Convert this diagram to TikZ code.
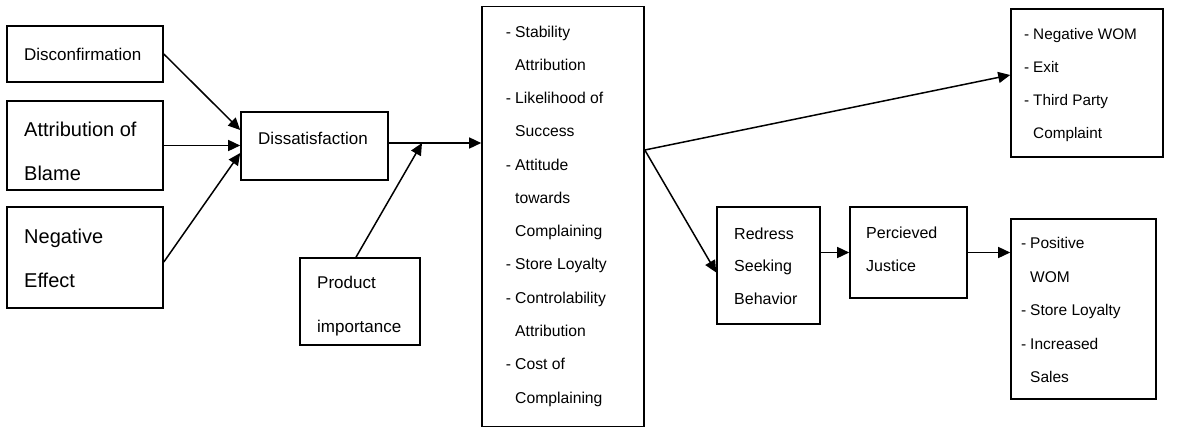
\documentclass[tikz,border=0pt]{standalone}
\usepackage{fontspec}
\setmainfont{Liberation Sans}
\usetikzlibrary{arrows.meta,calc}
\newcommand\myfs[2]{\fontsize{#1}{#2}\selectfont}
\newcommand\dd{\llap{-\kern4pt}}
\begin{document}
\begin{tikzpicture}[x=1pt,y=-1pt,
  box/.style={draw, line width=1.6pt, inner sep=0pt},
  txt/.style={anchor=west, align=left, inner sep=0pt},
  arr/.style={line width=1.5pt, -{Triangle[length=12pt,width=11pt]}}]
\useasboundingbox (0,0) rectangle (1183,429);
% boxes
\node[box, minimum width=156pt, minimum height=56pt]  (disc) at (85,54) {};
\node[box, minimum width=156pt, minimum height=89pt]  (attr) at (85,145.5) {};
\node[box, minimum width=156pt, minimum height=101pt] (neg)  at (85,257.5) {};
\node[box, minimum width=147pt, minimum height=68pt]  (dis)  at (314.5,146) {};
\node[box, minimum width=120pt, minimum height=87pt]  (pi)   at (360,301.5) {};
\node[box, minimum width=162pt, minimum height=420pt] (mid)  at (563,216.5) {};
\node[box, minimum width=152pt, minimum height=148pt] (tr)   at (1087,83) {};
\node[box, minimum width=103pt, minimum height=117pt] (rd)   at (768.5,265.5) {};
\node[box, minimum width=117pt, minimum height=91pt]  (pj)   at (908.5,252.5) {};
\node[box, minimum width=145pt, minimum height=180pt] (pos)  at (1083.5,309) {};
% texts
\node[txt, font=\myfs{17}{20}] (disc-t) at (24,54) {Disconfirmation};
\node[txt, font=\myfs{20}{44}] (attr-t) at (24,151) {Attribution of\\Blame};
\node[txt, font=\myfs{20}{44}] (neg-t) at (24,258) {Negative\\Effect};
\node[txt, font=\myfs{17}{20}] (dis-t) at (258,138) {Dissatisfaction};
\node[txt, font=\myfs{17}{44}] (pi-t) at (317,306) {Product\\importance};
\node[txt, font=\myfs{15.7}{33.27}] (mid-t) at (515,216) {\dd Stability\\Attribution\\\dd Likelihood of\\Success\\\dd Attitude\\towards\\Complaining\\\dd Store Loyalty\\\dd Controlability\\Attribution\\\dd Cost of\\Complaining};
\node[txt, font=\myfs{15.3}{33.3}] (tr-t) at (1033,85) {\dd Negative WOM\\\dd Exit\\\dd Third Party\\Complaint};
\node[txt, font=\myfs{16}{32.5}] (rd-t) at (734,266) {Redress\\Seeking\\Behavior};
\node[txt, font=\myfs{16}{33}] (pj-t) at (866,249.5) {Percieved\\Justice};
\node[txt, font=\myfs{15.5}{33.5}] (pos-t) at (1030,310) {\dd Positive\\WOM\\\dd Store Loyalty\\\dd Increased\\Sales};
% connectors
\coordinate (jn) at (422,143);
\coordinate (br) at ([yshift=66.5pt]mid.east);
\draw[arr] (disc.east) -- ([yshift=16pt]dis.west);
\draw[arr] (attr.east) -- (dis.west |- attr.east);
\draw[arr] ([yshift=-4.5pt]neg.east) -- ([yshift=-7pt]dis.west);
\draw[arr] (dis.east |- jn) -- (mid.west |- jn);
\draw[arr] ([xshift=-4pt]pi.north) -- (jn);
\draw[arr] (br) -- ([yshift=8pt]tr.west);
\draw[arr] (br) -- ([yshift=-7pt]rd.west);
\draw[arr] (rd.east |- pj.west) -- (pj.west);
\draw[arr] (pj.east) -- (pos.west |- pj.east);
\end{tikzpicture}
\end{document}
